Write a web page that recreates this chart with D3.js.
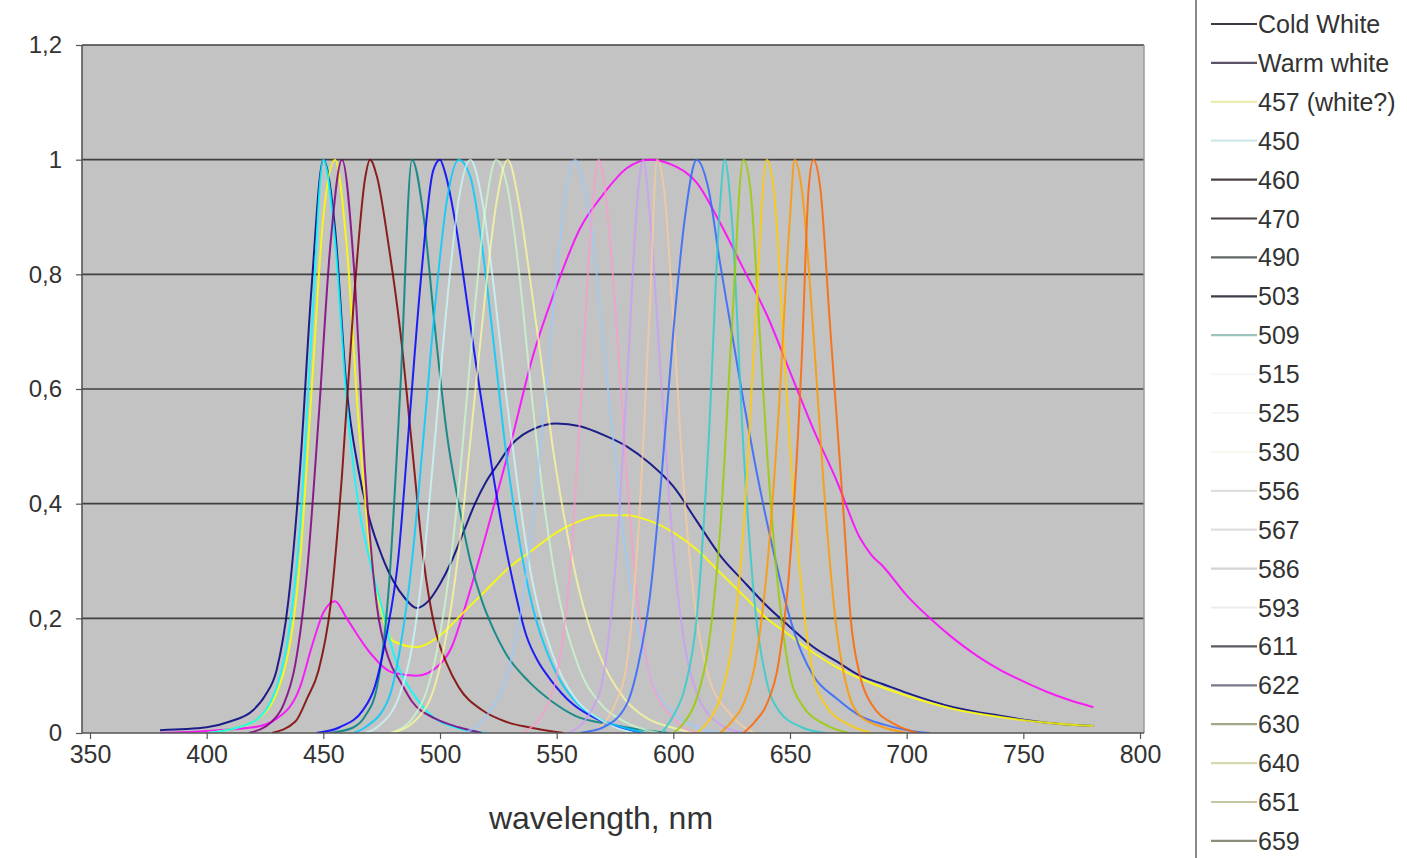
<!DOCTYPE html>
<html>
<head>
<meta charset="utf-8">
<script src="https://cdn.jsdelivr.net/npm/d3@7/dist/d3.min.js"></script>
<style>
  html, body { margin: 0; padding: 0; background: #ffffff; }
  svg { display: block; }
  text { font-family: "Liberation Sans", Arial, sans-serif; fill: #333; }
</style>
</head>
<body>
<svg id="chart" width="1407" height="858"></svg>
<script>
// ---------- DATA ----------
const xTicks = [350, 400, 450, 500, 550, 600, 650, 700, 750, 800];
const yTicks = [0, 0.2, 0.4, 0.6, 0.8, 1, 1.2];
const yTickLabels = ["0", "0,2", "0,4", "0,6", "0,8", "1", "1,2"];
const xTitle = "wavelength, nm";

const seriesNames = ["Cold White", "Warm white", "457 (white?)", "450", "460", "470", "490", "503", "509",
  "515", "525", "530", "556", "567", "586", "593", "611", "622", "630", "640", "651", "659"];

// [wavelength nm, relative intensity]
const coldWhite = [[380,0.005],[400,0.01],[410,0.02],[420,0.04],[425,0.065],[430,0.11],[435,0.23],[440,0.46],[445,0.78],[450,1.0],[455,0.88],[460,0.6],[465,0.46],[470,0.37],[475,0.31],[480,0.265],[485,0.235],[490,0.218],[495,0.23],[500,0.26],[505,0.3],[510,0.35],[515,0.4],[520,0.44],[525,0.47],[530,0.5],[540,0.53],[550,0.54],[560,0.535],[570,0.52],[580,0.5],[590,0.47],[600,0.43],[610,0.37],[620,0.31],[630,0.265],[640,0.222],[650,0.185],[660,0.15],[670,0.125],[680,0.1],[690,0.085],[700,0.07],[720,0.045],[740,0.03],[760,0.018],[780,0.012]];
const warmWhite = [[380,0.0],[420,0.01],[430,0.025],[440,0.08],[445,0.15],[450,0.21],[455,0.23],[460,0.2],[470,0.14],[480,0.105],[490,0.1],[500,0.12],[505,0.15],[510,0.21],[520,0.35],[530,0.5],[540,0.66],[550,0.78],[560,0.88],[570,0.94],[580,0.985],[590,1.0],[600,0.99],[610,0.96],[620,0.89],[630,0.81],[640,0.73],[650,0.63],[660,0.53],[670,0.44],[680,0.34],[685,0.31],[690,0.29],[700,0.24],[710,0.2],[720,0.165],[730,0.135],[740,0.11],[750,0.09],[760,0.072],[770,0.057],[780,0.045]];
const led457 = [[400,0.0],[420,0.02],[430,0.07],[440,0.3],[445,0.6],[450,0.9],[455,1.0],[460,0.85],[465,0.55],[470,0.32],[475,0.21],[480,0.16],[490,0.15],[500,0.17],[510,0.21],[520,0.25],[530,0.29],[540,0.32],[550,0.35],[560,0.37],[570,0.38],[580,0.38],[590,0.37],[600,0.35],[610,0.32],[620,0.28],[630,0.24],[640,0.2],[650,0.17],[660,0.14],[670,0.115],[680,0.095],[700,0.065],[720,0.042],[740,0.028],[760,0.018],[780,0.012]];
const led450 = [[400,0.0],[420,0.02],[430,0.08],[435,0.17],[440,0.36],[445,0.7],[450,1.0],[455,0.86],[460,0.58],[465,0.4],[470,0.3],[475,0.22],[480,0.14],[490,0.06],[500,0.02],[520,0.0]];
const led460 = [[418,0.0],[428,0.02],[433,0.05],[438,0.12],[443,0.28],[448,0.55],[453,0.85],[458,1.0],[463,0.82],[468,0.45],[473,0.22],[478,0.13],[483,0.09],[488,0.055],[498,0.025],[508,0.01],[518,0.0]];
const led470 = [[428,0.0],[438,0.02],[443,0.06],[448,0.11],[453,0.22],[458,0.45],[463,0.75],[468,0.97],[470,1.0],[473,0.97],[478,0.85],[483,0.7],[488,0.5],[493,0.3],[498,0.18],[503,0.12],[508,0.08],[518,0.04],[528,0.02],[538,0.01],[553,0.0]];
const led490 = [[453,0.0],[463,0.01],[468,0.03],[473,0.08],[478,0.25],[483,0.6],[488,1.0],[493,0.9],[498,0.7],[503,0.52],[508,0.4],[513,0.3],[518,0.23],[523,0.18],[528,0.14],[538,0.09],[548,0.055],[558,0.03],[573,0.015],[588,0.005],[598,0.0]];
const led503 = [[447,0.0],[457,0.01],[467,0.04],[472,0.08],[477,0.17],[482,0.3],[487,0.55],[492,0.8],[497,0.98],[500,1.0],[502,0.98],[507,0.88],[512,0.74],[517,0.6],[522,0.47],[527,0.35],[532,0.25],[537,0.17],[542,0.125],[547,0.095],[557,0.05],[567,0.025],[577,0.01],[587,0.0]];
const led509 = [[463,0.0],[468,0.01],[478,0.06],[483,0.15],[488,0.3],[493,0.52],[498,0.75],[503,0.93],[508,1.0],[513,0.97],[518,0.85],[523,0.68],[528,0.5],[533,0.36],[538,0.25],[548,0.12],[558,0.055],[568,0.025],[578,0.01],[588,0.0]];
const led515 = [[468,0.0],[473,0.01],[483,0.07],[488,0.15],[493,0.3],[498,0.52],[503,0.75],[508,0.93],[513,1.0],[518,0.93],[523,0.78],[528,0.6],[533,0.44],[538,0.3],[548,0.14],[558,0.06],[568,0.025],[583,0.0]];
const led525 = [[479,0.0],[489,0.03],[494,0.07],[499,0.15],[504,0.28],[509,0.47],[514,0.7],[519,0.9],[524,1.0],[529,0.95],[534,0.8],[539,0.6],[544,0.42],[549,0.28],[559,0.12],[569,0.05],[579,0.02],[594,0.0]];
const led530 = [[479,0.0],[489,0.02],[499,0.1],[504,0.2],[509,0.35],[514,0.55],[519,0.75],[524,0.92],[529,1.0],[534,0.92],[539,0.78],[544,0.63],[549,0.48],[554,0.36],[559,0.26],[569,0.13],[579,0.06],[589,0.025],[599,0.01],[609,0.0]];
const led556 = [[510,0.0],[520,0.03],[530,0.12],[535,0.22],[540,0.38],[545,0.58],[550,0.8],[555,0.97],[558,1.0],[560,0.98],[565,0.88],[570,0.68],[575,0.48],[580,0.3],[585,0.18],[590,0.1],[600,0.035],[610,0.01],[620,0.0]];
const led567 = [[535,0.0],[545,0.04],[550,0.1],[555,0.25],[560,0.55],[565,0.9],[568,1.0],[570,0.97],[575,0.75],[580,0.45],[585,0.22],[590,0.1],[600,0.025],[610,0.0]];
const led586 = [[555,0.0],[565,0.04],[570,0.1],[575,0.28],[580,0.6],[585,0.95],[587,1.0],[590,0.9],[595,0.6],[600,0.32],[605,0.15],[610,0.07],[620,0.015],[630,0.0]];
const led593 = [[565,0.0],[575,0.05],[580,0.12],[585,0.35],[590,0.75],[593,1.0],[596,0.95],[600,0.72],[605,0.4],[610,0.2],[615,0.1],[625,0.03],[635,0.0]];
const led611 = [[560,0.0],[570,0.01],[580,0.05],[585,0.12],[590,0.24],[595,0.45],[600,0.7],[605,0.9],[610,1.0],[615,0.95],[620,0.82],[625,0.7],[630,0.58],[635,0.47],[640,0.37],[645,0.28],[650,0.2],[655,0.14],[660,0.1],[670,0.06],[680,0.03],[690,0.015],[700,0.005],[710,0.0]];
const led622 = [[595,0.0],[600,0.03],[605,0.08],[610,0.2],[615,0.5],[620,0.92],[622,1.0],[625,0.9],[630,0.5],[635,0.22],[640,0.09],[645,0.04],[655,0.01],[665,0.0]];
const led630 = [[600,0.0],[605,0.02],[610,0.06],[615,0.15],[620,0.35],[625,0.7],[630,1.0],[633,0.95],[637,0.7],[640,0.5],[645,0.25],[650,0.1],[655,0.05],[665,0.015],[675,0.0]];
const led640 = [[610,0.0],[615,0.02],[620,0.06],[625,0.15],[630,0.35],[635,0.7],[640,1.0],[643,0.95],[647,0.7],[650,0.5],[655,0.25],[660,0.1],[665,0.05],[675,0.015],[685,0.0]];
const led651 = [[620,0.0],[625,0.02],[630,0.05],[635,0.12],[640,0.28],[645,0.55],[650,0.9],[652,1.0],[655,0.95],[660,0.7],[665,0.4],[670,0.18],[675,0.07],[680,0.03],[690,0.01],[700,0.0]];
const led659 = [[630,0.0],[635,0.02],[640,0.05],[645,0.12],[650,0.3],[655,0.65],[658,0.95],[660,1.0],[663,0.95],[667,0.72],[670,0.55],[673,0.38],[676,0.2],[680,0.1],[685,0.05],[695,0.015],[705,0.0]];

const seriesValues = [coldWhite, warmWhite, led457, led450, led460, led470, led490, led503, led509,
  led515, led525, led530, led556, led567, led586, led593, led611, led622, led630, led640, led651, led659];

// Excel-style line palette (style, not data)
const palette = ["#000080", "#FF00FF", "#FFFF00", "#00FFFF", "#800080", "#800000", "#008080", "#0000FF", "#00CCFF",
  "#CCFFFF", "#CCFFCC", "#FFFF99", "#99CCFF", "#FF99CC", "#CC99FF", "#FFCC99", "#3366FF", "#33CCCC",
  "#99CC00", "#FFCC00", "#FF9900", "#FF6600"];
// legend swatches look washed out in the reference
const legendPalette = ["#3a3a44", "#5a5266", "#ecebb0", "#cfe9ea", "#4a4046", "#4a4040", "#606666", "#3e3e4c", "#9cc4bc",
  "#f6f8f8", "#f6f8f6", "#f8f8f0", "#dedede", "#e2dee0", "#d4d2d6", "#ececea", "#5a5a60", "#7a7a8a",
  "#a4a68a", "#d6d8b0", "#c4c6a0", "#8a8c7c"];

// ---------- LAYOUT ----------
const plot = { left: 82, right: 1144, top: 45, bottom: 733 };
const svg = d3.select("#chart");

const x = d3.scaleLinear().domain([350, 800]).range([90, 1140]);
const y = d3.scaleLinear().domain([0, 1.2]).range([plot.bottom, plot.top]);

// plot background
svg.append("rect")
  .attr("x", plot.left).attr("y", plot.top)
  .attr("width", plot.right - plot.left).attr("height", plot.bottom - plot.top)
  .attr("fill", "#c3c3c3");

// gridlines
svg.append("g")
  .selectAll("line").data(yTicks.filter(d => d > 0)).join("line")
  .attr("x1", plot.left).attr("x2", plot.right)
  .attr("y1", d => y(d)).attr("y2", d => y(d))
  .attr("stroke", "#404040").attr("stroke-width", 1.7);

// right border of plot area
svg.append("line")
  .attr("x1", plot.right).attr("x2", plot.right)
  .attr("y1", plot.top).attr("y2", plot.bottom)
  .attr("stroke", "#9a9a9a").attr("stroke-width", 1.5);

// series lines
const line = d3.line()
  .x(d => x(d[0])).y(d => y(d[1]))
  .curve(d3.curveMonotoneX);

svg.append("clipPath").attr("id", "plotclip")
  .append("rect").attr("x", plot.left).attr("y", plot.top)
  .attr("width", plot.right - plot.left).attr("height", plot.bottom - plot.top);

svg.append("g").attr("clip-path", "url(#plotclip)")
  .selectAll("path").data(seriesValues).join("path")
  .attr("d", d => line(d))
  .attr("fill", "none")
  .attr("stroke", (d, i) => palette[i])
  .attr("stroke-width", 2)
  .attr("stroke-opacity", (d, i) => (i >= 9 && i <= 15) ? 0.7 : 0.85)
  .attr("stroke-linejoin", "round");

// y axis line (plot left edge)
svg.append("line")
  .attr("x1", plot.left).attr("x2", plot.left)
  .attr("y1", plot.top).attr("y2", plot.bottom)
  .attr("stroke", "#555").attr("stroke-width", 1.6);
// x axis line
svg.append("line")
  .attr("x1", plot.left).attr("x2", plot.right)
  .attr("y1", plot.bottom).attr("y2", plot.bottom)
  .attr("stroke", "#555").attr("stroke-width", 1.6);

// axes (ticks + labels)
const xAxis = d3.axisBottom(x).tickValues(xTicks).tickSize(6).tickFormat(d3.format("d"));
const gx = svg.append("g").attr("transform", `translate(0,${plot.bottom})`).call(xAxis);
gx.select(".domain").remove();
gx.selectAll(".tick line").attr("stroke", "#555").attr("stroke-width", 1.2);
gx.selectAll(".tick text")
  .attr("font-size", 25).attr("fill", "#3a3a3a").attr("dy", "0.85em")
  .style("font-family", '"Liberation Sans", Arial, sans-serif');

const yAxis = d3.axisLeft(y).tickValues(yTicks).tickSize(6)
  .tickFormat((d, i) => yTickLabels[i]);
const gy = svg.append("g").attr("transform", `translate(${plot.left},0)`).call(yAxis);
gy.select(".domain").remove();
gy.selectAll(".tick line").attr("stroke", "#555").attr("stroke-width", 1.2);
gy.selectAll(".tick text")
  .attr("font-size", 24).attr("fill", "#3a3a3a").attr("x", -20)
  .style("font-family", '"Liberation Sans", Arial, sans-serif');

// x title
svg.append("text")
  .attr("x", 601).attr("y", 829)
  .attr("text-anchor", "middle")
  .attr("font-size", 32).attr("fill", "#333")
  .text(xTitle);

// legend
svg.append("line")
  .attr("x1", 1196).attr("x2", 1196).attr("y1", 0).attr("y2", 858)
  .attr("stroke", "#8a8a8a").attr("stroke-width", 2);

const legendTop = 24, legendStep = 38.9;
const leg = svg.append("g").selectAll("g").data(seriesNames).join("g")
  .attr("transform", (d, i) => `translate(0,${legendTop + i * legendStep})`);

leg.append("line")
  .attr("x1", 1211).attr("x2", 1257).attr("y1", 0).attr("y2", 0)
  .attr("stroke", (d, i) => legendPalette[i])
  .attr("stroke-width", 2.2);
leg.append("text")
  .attr("x", 1258).attr("y", 0).attr("dy", "0.36em")
  .attr("font-size", 25).attr("fill", "#3a3a3a")
  .text(d => d);
</script>
</body>
</html>
